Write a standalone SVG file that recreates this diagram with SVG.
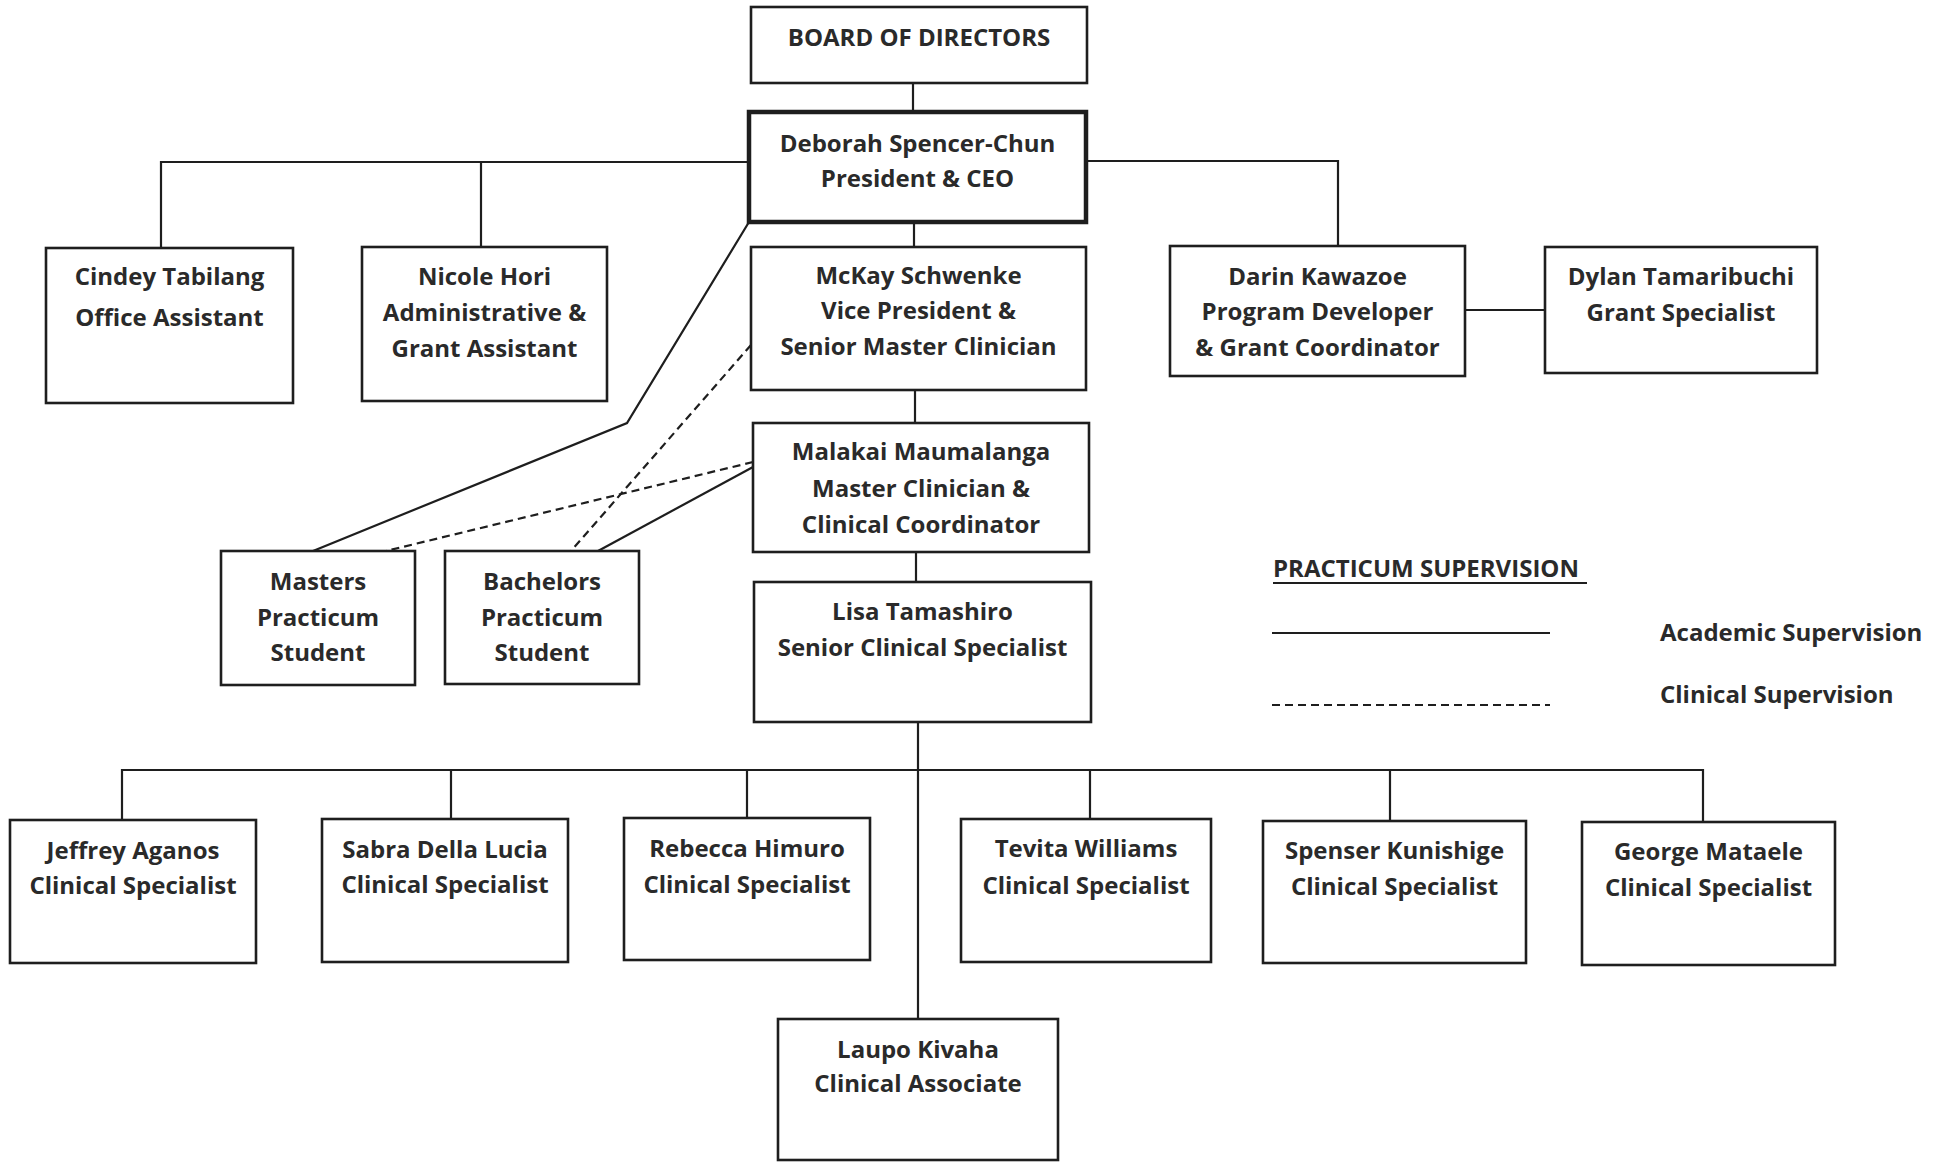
<svg xmlns="http://www.w3.org/2000/svg" width="1944" height="1162" viewBox="0 0 1944 1162">
<style>
.box{fill:#fff;stroke:#1e1e1e;stroke-width:2.6}
.thick{stroke-width:4.5}
.t{font-family:"Open Sans","Liberation Sans",sans-serif;font-weight:bold;font-size:24px;fill:#2a2a2a;text-anchor:middle}
.tl{font-family:"Open Sans","Liberation Sans",sans-serif;font-weight:bold;font-size:24px;fill:#2a2a2a}
.ln{fill:none;stroke:#1e1e1e;stroke-width:2.2}
.dash{fill:none;stroke:#1e1e1e;stroke-width:2.2;stroke-dasharray:8 5}
</style>
<rect width="1944" height="1162" fill="#fff"/>
<g id="connectors">
<path class="ln" d="M913 83V112"/>
<path class="ln" d="M914 222V247"/>
<path class="ln" d="M915 390V423"/>
<path class="ln" d="M916 552V582"/>
<path class="ln" d="M918 722V1019"/>
<path class="ln" d="M749 162H161V248M481 162V247"/>
<path class="ln" d="M1086 161H1338V246"/>
<path class="ln" d="M1465 310H1545"/>
<path class="ln" d="M122 820V770H1703V822M451 770V819M747 770V818M1090 770V819M1390 770V821"/>
<path class="ln" d="M749 222L627 423L313 551"/>
<path class="ln" d="M753 467L598 551"/>
<path class="dash" d="M753 462L386 551"/>
<path class="dash" d="M751 345L571 551"/>
</g>
<g id="board"><rect class="box" x="751" y="7" width="336" height="76"/><text class="t" x="919" y="46">BOARD OF DIRECTORS</text></g>
<g id="ceo"><rect class="box thick" x="749" y="112" width="337" height="110"/><text class="t" x="917.5" y="152">Deborah Spencer-Chun</text><text class="t" x="917.5" y="187">President &amp; CEO</text></g>
<g id="cindey"><rect class="box" x="46" y="248" width="247" height="155"/><text class="t" x="169.5" y="285">Cindey Tabilang</text><text class="t" x="169.5" y="326">Office Assistant</text></g>
<g id="nicole"><rect class="box" x="362" y="247" width="245" height="154"/><text class="t" x="484.5" y="285">Nicole Hori</text><text class="t" x="484.5" y="321">Administrative &amp;</text><text class="t" x="484.5" y="357">Grant Assistant</text></g>
<g id="mckay"><rect class="box" x="751" y="247" width="335" height="143"/><text class="t" x="918.5" y="284">McKay Schwenke</text><text class="t" x="918.5" y="319">Vice President &amp;</text><text class="t" x="918.5" y="355">Senior Master Clinician</text></g>
<g id="darin"><rect class="box" x="1170" y="246" width="295" height="130"/><text class="t" x="1317.5" y="285">Darin Kawazoe</text><text class="t" x="1317.5" y="320">Program Developer</text><text class="t" x="1317.5" y="356">&amp; Grant Coordinator</text></g>
<g id="dylan"><rect class="box" x="1545" y="247" width="272" height="126"/><text class="t" x="1681" y="285">Dylan Tamaribuchi</text><text class="t" x="1681" y="321">Grant Specialist</text></g>
<g id="malakai"><rect class="box" x="753" y="423" width="336" height="129"/><text class="t" x="921" y="460">Malakai Maumalanga</text><text class="t" x="921" y="497">Master Clinician &amp;</text><text class="t" x="921" y="533">Clinical Coordinator</text></g>
<g id="lisa"><rect class="box" x="754" y="582" width="337" height="140"/><text class="t" x="922.5" y="620">Lisa Tamashiro</text><text class="t" x="922.5" y="656">Senior Clinical Specialist</text></g>
<g id="masters"><rect class="box" x="221" y="551" width="194" height="134"/><text class="t" x="318" y="590">Masters</text><text class="t" x="318" y="626">Practicum</text><text class="t" x="318" y="661">Student</text></g>
<g id="bachelors"><rect class="box" x="445" y="551" width="194" height="133"/><text class="t" x="542" y="590">Bachelors</text><text class="t" x="542" y="626">Practicum</text><text class="t" x="542" y="661">Student</text></g>
<g id="jeffrey"><rect class="box" x="10" y="820" width="246" height="143"/><text class="t" x="133" y="859">Jeffrey Aganos</text><text class="t" x="133" y="894">Clinical Specialist</text></g>
<g id="sabra"><rect class="box" x="322" y="819" width="246" height="143"/><text class="t" x="445" y="858">Sabra Della Lucia</text><text class="t" x="445" y="893">Clinical Specialist</text></g>
<g id="rebecca"><rect class="box" x="624" y="818" width="246" height="142"/><text class="t" x="747" y="857">Rebecca Himuro</text><text class="t" x="747" y="893">Clinical Specialist</text></g>
<g id="tevita"><rect class="box" x="961" y="819" width="250" height="143"/><text class="t" x="1086" y="857">Tevita Williams</text><text class="t" x="1086" y="894">Clinical Specialist</text></g>
<g id="spenser"><rect class="box" x="1263" y="821" width="263" height="142"/><text class="t" x="1394.5" y="859">Spenser Kunishige</text><text class="t" x="1394.5" y="895">Clinical Specialist</text></g>
<g id="george"><rect class="box" x="1582" y="822" width="253" height="143"/><text class="t" x="1708.5" y="860">George Mataele</text><text class="t" x="1708.5" y="896">Clinical Specialist</text></g>
<g id="laupo"><rect class="box" x="778" y="1019" width="280" height="141"/><text class="t" x="918" y="1058">Laupo Kivaha</text><text class="t" x="918" y="1092">Clinical Associate</text></g>
<g id="legend">
<text class="tl" x="1273" y="577">PRACTICUM SUPERVISION</text>
<path class="ln" d="M1273 583H1587"/>
<path class="ln" d="M1272 633H1550"/>
<path class="dash" d="M1272 705H1550"/>
<text class="tl" x="1660" y="641">Academic Supervision</text>
<text class="tl" x="1660" y="703">Clinical Supervision</text>
</g>
</svg>
